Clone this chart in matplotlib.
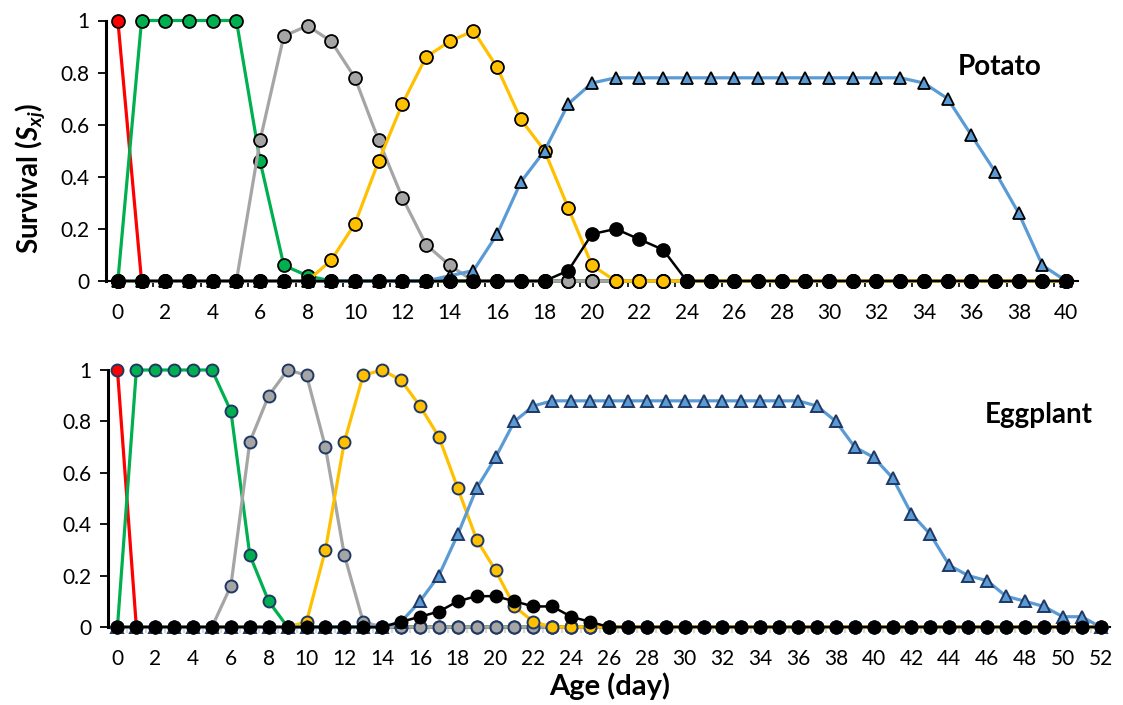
import matplotlib
matplotlib.use("Agg")
import matplotlib.pyplot as plt
from matplotlib.ticker import FixedLocator, FuncFormatter

plt.rcParams['font.family'] = ['Lato', 'DejaVu Sans']
plt.rcParams['mathtext.fontset'] = 'custom'
plt.rcParams['mathtext.rm'] = 'Lato:bold'
plt.rcParams['mathtext.bf'] = 'Lato:bold'
plt.rcParams['mathtext.it'] = 'Lato:bold:italic'

# ---------------- data ----------------
days_potato = list(range(0, 41))
potato_egg = [1, 0] + [0] * 39
potato_l1 = [0, 1, 1, 1, 1, 1, 0.46, 0.06, 0.02] + [0] * 32
potato_l2 = [0, 0, 0, 0, 0, 0, 0.54, 0.94, 0.98, 0.92, 0.78, 0.54, 0.32, 0.14, 0.06] + [0] * 26
potato_pupa = [0] * 9 + [0.08, 0.22, 0.46, 0.68, 0.86, 0.92, 0.96, 0.82, 0.62, 0.50, 0.28, 0.06] + [0] * 20
potato_adult = ([0] * 14 + [0.02, 0.04, 0.18, 0.38, 0.50, 0.68, 0.76] + [0.78] * 13
                + [0.76, 0.70, 0.56, 0.42, 0.26, 0.06, 0])
potato_male = [0] * 19 + [0.04, 0.18, 0.20, 0.16, 0.12] + [0] * 17

days_egg = list(range(0, 53))
egg_egg = [1, 0] + [0] * 51
egg_l1 = [0, 1, 1, 1, 1, 1, 0.84, 0.28, 0.10] + [0] * 44
egg_l2 = [0, 0, 0, 0, 0, 0, 0.16, 0.72, 0.90, 1.0, 0.98, 0.70, 0.28, 0.02] + [0] * 39
egg_pupa = [0] * 10 + [0.02, 0.30, 0.72, 0.98, 1.0, 0.96, 0.86, 0.74, 0.54, 0.34, 0.22, 0.08, 0.02] + [0] * 30
egg_adult = ([0] * 15 + [0.02, 0.10, 0.20, 0.36, 0.54, 0.66, 0.80, 0.86] + [0.88] * 14
             + [0.86, 0.80, 0.70, 0.66, 0.58, 0.44, 0.36, 0.24, 0.20, 0.18, 0.12, 0.10, 0.08, 0.04, 0.04, 0])
egg_male = [0] * 15 + [0.02, 0.04, 0.06, 0.10, 0.12, 0.12, 0.10, 0.08, 0.08, 0.04, 0.02] + [0] * 27

yticks = [0, 0.2, 0.4, 0.6, 0.8, 1]
xticks_potato = list(range(0, 41, 2))
xticks_egg = list(range(0, 53, 2))

RED, GREEN, GRAY, YELLOW, BLUE, BLACK = "#FF0000", "#00B050", "#A5A5A5", "#FFC000", "#5B9BD5", "#000000"
NAVY = "#1F3864"

W, H = 1123, 705
fig = plt.figure(figsize=(W / 100, H / 100), dpi=100)


def px_axes(l, r, top, bottom):
    return fig.add_axes([l / W, 1 - bottom / H, (r - l) / W, (bottom - top) / H])


ax1 = px_axes(106, 1078, 20.5, 281)
ax2 = px_axes(108, 1110, 370, 627)


def draw(ax, x, series, edge, ms, mew):
    for y, col, mk in series:
        mec = BLACK if col == BLACK else edge
        ax.plot(x, y, color=col, lw=2.3 if col != BLACK else 1.8, marker=mk, ms=ms,
                mfc=col, mec=mec, mew=mew, clip_on=False, zorder=3)


draw(ax1, days_potato, [
    (potato_egg, RED, 'o'), (potato_l1, GREEN, 'o'), (potato_l2, GRAY, 'o'),
    (potato_pupa, YELLOW, 'o'), (potato_adult, BLUE, '^'), (potato_male, BLACK, 'o')],
    BLACK, 9.3, 1.3)
draw(ax2, days_egg, [
    (egg_egg, RED, 'o'), (egg_l1, GREEN, 'o'), (egg_l2, GRAY, 'o'),
    (egg_pupa, YELLOW, 'o'), (egg_adult, BLUE, '^'), (egg_male, BLACK, 'o')],
    NAVY, 8.6, 1.4)

fmt = FuncFormatter(lambda v, p: ('%g' % round(v, 1)))
for ax, xt, nmax in ((ax1, xticks_potato, 40), (ax2, xticks_egg, 52)):
    ax.set_xlim(-0.5, nmax + 0.5)
    ax.set_ylim(0, 1)
    for s in ('top', 'right'):
        ax.spines[s].set_visible(False)
    ax.spines['left'].set_linewidth(2.2)
    ax.spines['bottom'].set_linewidth(1.5)
    ax.set_yticks(yticks)
    ax.yaxis.set_major_formatter(fmt)
    ax.tick_params(axis='y', length=6, width=1.3, direction='out', labelsize=15, pad=6)
    ax.set_xticks(xt)
    ax.set_xticklabels([str(v) for v in xt])
    ax.tick_params(axis='x', which='major', length=0, labelsize=15, pad=16)

ax1.xaxis.set_minor_locator(FixedLocator([d + 0.5 for d in range(1, 40, 2)]))
ax1.tick_params(axis='x', which='minor', length=4, width=1.2, color=BLACK)
ax2.xaxis.set_minor_locator(FixedLocator([d + 0.5 for d in range(0, 52)]))
ax2.tick_params(axis='x', which='minor', length=4, width=1.6, color="#D9D9D9")

fig.text(958 / W, 1 - 75 / H, "Potato", fontsize=20, fontweight='bold', ha='left', va='baseline')
fig.text(985 / W, 1 - 423 / H, "Eggplant", fontsize=20, fontweight='bold', ha='left', va='baseline')
fig.text(30 / W, 1 - 178 / H, r"$\mathrm{Survival\ (}\mathit{S_{xj}}\mathrm{)}$", fontsize=20,
         rotation=90, ha='center', va='center')
fig.text(610 / W, 1 - 686 / H, "Age (day)", fontsize=21, fontweight='bold', ha='center', va='center')

fig.savefig("out.png", dpi=100)
